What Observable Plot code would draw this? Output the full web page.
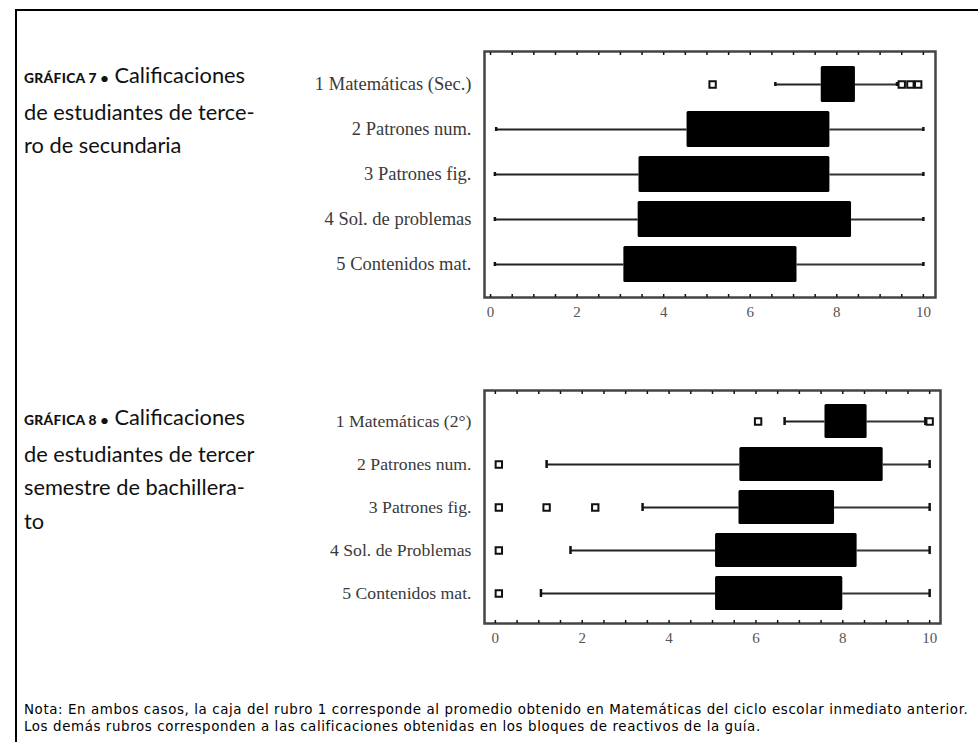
<!DOCTYPE html>
<html>
<head>
<meta charset="utf-8">
<script src="https://cdn.jsdelivr.net/npm/d3@7"></script>
<script src="https://cdn.jsdelivr.net/npm/@observablehq/plot@0.6"></script>
<style>
  html, body { margin: 0; padding: 0; background: #fff; }
  body { width: 978px; height: 742px; position: relative; overflow: hidden; }
  .border-top { position: absolute; left: 15px; top: 9px; width: 970px; height: 2px; background: #000; }
  .border-left { position: absolute; left: 15px; top: 9px; width: 2px; height: 740px; background: #000; }
  .title { position: absolute; left: 24px; font-family: Lato, "Open Sans", sans-serif; font-size: 21.8px; line-height: 33.5px; color: #111; white-space: nowrap; }
  .title .tag { font-size: 13.8px; font-weight: 900; letter-spacing: 0.3px; }
  .chart { position: absolute; left: 280px; }
  .note { position: absolute; left: 24px; top: 702px; font-family: "DejaVu Sans", sans-serif; font-size: 13.4px; letter-spacing: 0.6px; line-height: 16.5px; color: #000; white-space: nowrap; }
</style>
</head>
<body>
<div class="border-top"></div>
<div class="border-left"></div>
<div class="title" style="top:58px"><span class="tag">GRÁFICA 7 •</span> Calificaciones<br>de estudiantes de terce-<br>ro de secundaria</div>
<div class="title" style="top:400px"><span class="tag">GRÁFICA 8 •</span> Calificaciones<br>de estudiantes de tercer<br>semestre de bachillera-<br>to</div>
<div id="chart1" class="chart" style="top:40px"></div>
<div id="chart2" class="chart" style="top:380px"></div>
<div class="note">Nota: En ambos casos, la caja del rubro 1 corresponde al promedio obtenido en Matemáticas del ciclo escolar inmediato anterior.<br>Los demás rubros corresponden a las calificaciones obtenidas en los bloques de reactivos de la guía.</div>
<script>
// ---- Gráfica 7: tercero de secundaria ----
const categoriesSec = ["1 Matemáticas (Sec.)", "2 Patrones num.", "3 Patrones fig.", "4 Sol. de problemas", "5 Contenidos mat."];
const secLow  = [6.58, 0.13, 0.1, 0.1, 0.1];
const secQ1   = [7.64, 4.54, 3.43, 3.41, 3.08];
const secQ3   = [8.43, 7.84, 7.84, 8.34, 7.08];
const secHigh = [9.39, 10, 10, 10, 10];
const secOutlierCat = ["1 Matemáticas (Sec.)", "1 Matemáticas (Sec.)", "1 Matemáticas (Sec.)", "1 Matemáticas (Sec.)"];
const secOutlierVal = [5.13, 9.5, 9.7, 9.88];

// ---- Gráfica 8: tercer semestre de bachillerato ----
const categoriesBach = ["1 Matemáticas (2°)", "2 Patrones num.", "3 Patrones fig.", "4 Sol. de Problemas", "5 Contenidos mat."];
const bachLow  = [6.66, 1.18, 3.39, 1.73, 1.05];
const bachQ1   = [7.59, 5.63, 5.61, 5.07, 5.07];
const bachQ3   = [8.56, 8.93, 7.81, 8.33, 8.0];
const bachHigh = [9.9, 10, 10, 10, 10];
const bachOutlierCat = ["1 Matemáticas (2°)", "1 Matemáticas (2°)", "2 Patrones num.", "3 Patrones fig.", "3 Patrones fig.", "3 Patrones fig.", "4 Sol. de Problemas", "5 Contenidos mat."];
const bachOutlierVal = [6.05, 10, 0.08, 0.08, 1.18, 2.30, 0.08, 0.08];

const majorTicks = [0, 2, 4, 6, 8, 10];
const minorTicks = d3.range(0, 10.01, 0.5);

function boxChart(cats, low, q1, q3, high, oCat, oVal, opts) {
  const rows = cats.map((c, i) => ({cat: c, low: low[i], q1: q1[i], q3: q3[i], high: high[i]}));
  const outs = oCat.map((c, i) => ({cat: c, v: oVal[i]}));
  return Plot.plot({
    width: 670,
    height: 290,
    marginLeft: 204,
    marginRight: opts.marginRight,
    marginTop: opts.marginTop,
    marginBottom: opts.marginBottom,
    style: {background: "transparent", overflow: "visible"},
    x: {domain: opts.xDomain, label: null},
    y: {type: "band", domain: cats, paddingInner: opts.pi, paddingOuter: opts.po, label: null},
    marks: [
      Plot.ruleY(rows, {y: "cat", x1: "low", x2: "q1", stroke: "#222", strokeWidth: 2}),
      Plot.ruleY(rows, {y: "cat", x1: "q3", x2: "high", stroke: "#333", strokeWidth: 2}),
      Plot.tickX(rows, {x: "low", y: "cat", stroke: "#111", strokeWidth: 2.5, insetTop: opts.capInset, insetBottom: opts.capInset}),
      Plot.tickX(rows, {x: "high", y: "cat", stroke: "#111", strokeWidth: 2.5, insetTop: opts.capInset, insetBottom: opts.capInset}),
      Plot.barX(rows, {y: "cat", x1: "q1", x2: "q3", fill: "#000", rx: 1.5}),
      Plot.dot(outs, {x: "v", y: "cat", symbol: "square", r: 3.6, stroke: "#111", strokeWidth: 2, fill: "#fff"}),
      Plot.frame({stroke: "#444", strokeWidth: 2.5}),
      Plot.axisY({tickSize: 0, tickPadding: 13, fontSize: opts.labelSize, fontFamily: "Liberation Serif, serif", color: "#3a3a3a"}),
      Plot.axisX({anchor: "bottom", ticks: majorTicks, tickSize: 0, tickPadding: 9, fontSize: 15, fontFamily: "Liberation Serif, serif", color: "#555", tickFormat: d => String(d)}),
      Plot.axisX({anchor: "bottom", ticks: minorTicks, tickSize: -3, tickFormat: () => "", stroke: "#111", strokeWidth: 1.5}),
      Plot.axisX({anchor: "top", ticks: minorTicks, tickSize: -3, tickFormat: () => "", stroke: "#111", strokeWidth: 1.5})
    ]
  });
}

document.getElementById("chart1").append(
  boxChart(categoriesSec, secLow, secQ1, secQ3, secHigh, secOutlierCat, secOutlierVal,
    {marginRight: 15, marginTop: 11, marginBottom: 33, xDomain: [-0.14, 10.28], pi: 0.19, po: 0.28, capInset: 16, labelSize: 18.5})
);
document.getElementById("chart2").append(
  boxChart(categoriesBach, bachLow, bachQ1, bachQ3, bachHigh, bachOutlierCat, bachOutlierVal,
    {marginRight: 10, marginTop: 10, marginBottom: 47, xDomain: [-0.25, 10.25], pi: 0.21, po: 0.3, capInset: 13, labelSize: 17.7})
);
</script>
</body>
</html>
